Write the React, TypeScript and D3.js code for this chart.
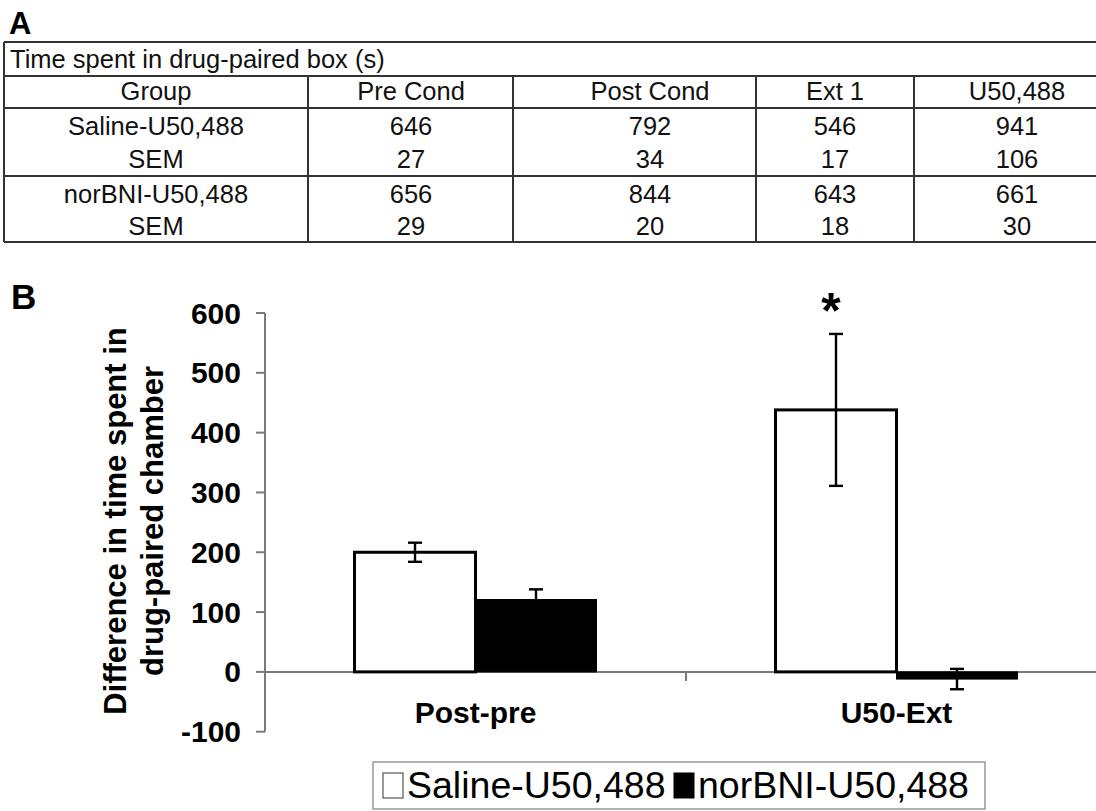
import React from 'react';
import * as d3 from 'd3';

// ---- Table (panel A) data ----
const tableTitle = 'Time spent in drug-paired box (s)';
const tableHeaders = ['Group', 'Pre Cond', 'Post Cond', 'Ext 1', 'U50,488'];
const rowLabels = ['Saline-U50,488', 'SEM', 'norBNI-U50,488', 'SEM'];
const salineMeans = [646, 792, 546, 941];
const salineSEM = [27, 34, 17, 106];
const norbniMeans = [656, 844, 643, 661];
const norbniSEM = [29, 20, 18, 30];

// ---- Bar chart (panel B) data ----
const categories = ['Post-pre', 'U50-Ext'];
const seriesNames = ['Saline-U50,488', 'norBNI-U50,488'];
const salineDiff = [200, 438];
const salineErr = [16, 127];
const norbniDiff = [121, -12];
const norbniErr = [17, 17];
const yTicks = [-100, 0, 100, 200, 300, 400, 500, 600];
const significant = [false, true];

const FONT = "'Liberation Sans', Arial, Helvetica, sans-serif";

export default function App() {
  const W = 1096, H = 811;

  // table layout
  const rowLines = [42, 76, 108, 176, 242];
  const colLines = [308, 513, 756, 914];
  const colCenters = [156, 411, 650, 835, 1017];
  const rowBase = [135, 168, 203, 235];
  const tableRows = [salineMeans, salineSEM, norbniMeans, norbniSEM];

  // chart scales
  const y = d3.scaleLinear().domain([-100, 600]).range([731.7, 313]);
  const x0 = d3.scaleBand().domain(categories).range([265, 1107]).paddingInner(0).paddingOuter(0);
  const x1 = d3.scaleBand().domain(seriesNames).range([0, x0.bandwidth()]).paddingInner(0).paddingOuter(0.74);

  const series = [
    { name: seriesNames[0], values: salineDiff, errs: salineErr, fill: '#fff', sw: 3 },
    { name: seriesNames[1], values: norbniDiff, errs: norbniErr, fill: '#000', sw: 1 },
  ];
  const axisColor = '#7a7a7a';

  return (
    <svg width={W} height={H} style={{ position: 'absolute', left: 0, top: 0, background: '#fff' }} fontFamily={FONT}>
      <rect x={0} y={0} width={W} height={H} fill="#fff" />
      {/* Panel A */}
      <text x={9} y={34} fontSize={31} fontWeight="bold">A</text>
      <g stroke="#333" strokeWidth={2}>
        <line x1={4} x2={4} y1={rowLines[0]} y2={rowLines[4]} />
        {rowLines.map((ry, i) => (
          <line key={i} x1={4} x2={1100} y1={ry} y2={ry} />
        ))}
        {colLines.map((cx, i) => (
          <line key={i} x1={cx} x2={cx} y1={rowLines[1]} y2={rowLines[4]} />
        ))}
      </g>
      <g fontSize={25.5} fill="#111">
        <text x={10} y={68}>{tableTitle}</text>
        {tableHeaders.map((h, i) => (
          <text key={h} x={colCenters[i]} y={100} textAnchor="middle">{h}</text>
        ))}
        {rowLabels.map((lab, r) => (
          <g key={r}>
            <text x={colCenters[0]} y={rowBase[r]} textAnchor="middle">{lab}</text>
            {tableRows[r].map((v, c) => (
              <text key={c} x={colCenters[c + 1]} y={rowBase[r]} textAnchor="middle">{v}</text>
            ))}
          </g>
        ))}
      </g>

      {/* Panel B */}
      <text x={11} y={309} fontSize={35} fontWeight="bold">B</text>
      {/* y axis title */}
      <g fontSize={31} fontWeight="bold" textAnchor="middle">
        <text transform="translate(126,521) rotate(-90)">Difference in time spent in</text>
        <text transform="translate(163,521) rotate(-90)">drug-paired chamber</text>
      </g>
      {/* y axis */}
      <line x1={265} x2={265} y1={y(600)} y2={y(-100)} stroke={axisColor} strokeWidth={2} />
      {yTicks.map((t) => (
        <g key={t}>
          <line x1={256} x2={265} y1={y(t)} y2={y(t)} stroke={axisColor} strokeWidth={2} />
          <text x={241} y={y(t) + 10.5} textAnchor="end" fontSize={30} fontWeight="bold">{t}</text>
        </g>
      ))}
      {/* x axis */}
      <line x1={265} x2={1096} y1={y(0)} y2={y(0)} stroke={axisColor} strokeWidth={2} />
      {categories.slice(1).map((c) => (
        <line key={c} x1={x0(c)} x2={x0(c)} y1={y(0)} y2={y(0) + 9} stroke={axisColor} strokeWidth={2} />
      ))}
      {/* bars */}
      {series.map((s) =>
        categories.map((c, i) => {
          const bx = (x0(c) as number) + (x1(s.name) as number);
          const v = s.values[i];
          return (
            <rect key={s.name + c} x={bx} width={x1.bandwidth()} y={Math.min(y(v), y(0))}
              height={Math.abs(y(v) - y(0))} fill={s.fill} stroke="#000" strokeWidth={s.sw} />
          );
        })
      )}
      {/* error bars */}
      {series.map((s) =>
        categories.map((c, i) => {
          const cx = (x0(c) as number) + (x1(s.name) as number) + x1.bandwidth() / 2;
          const v = s.values[i], e = s.errs[i];
          return (
            <g key={'e' + s.name + c} stroke="#000" strokeWidth={2.4}>
              <line x1={cx} x2={cx} y1={y(v + e)} y2={y(v - e)} />
              <line x1={cx - 7} x2={cx + 7} y1={y(v + e)} y2={y(v + e)} />
              <line x1={cx - 7} x2={cx + 7} y1={y(v - e)} y2={y(v - e)} />
            </g>
          );
        })
      )}
      {/* significance */}
      {categories.map((c, i) =>
        significant[i] ? (
          <text key={'s' + c} x={(x0(c) as number) + (x1(seriesNames[0]) as number) + x1.bandwidth() / 2 - 5}
            y={y(salineDiff[i] + salineErr[i]) - 6} textAnchor="middle" fontSize={50} fontWeight="bold">*</text>
        ) : null
      )}
      {/* category labels */}
      {categories.map((c) => (
        <text key={'l' + c} x={(x0(c) as number) + x0.bandwidth() / 2} y={723} textAnchor="middle"
          fontSize={30} fontWeight="bold">{c}</text>
      ))}
      {/* legend */}
      <rect x={373} y={762} width={612} height={47} fill="#fff" stroke="#999" strokeWidth={1.5} />
      <rect x={383} y={773} width={20} height={25} fill="#fff" stroke="#555" strokeWidth={1.2} />
      <text x={407} y={798} fontSize={37.5}>{seriesNames[0]}</text>
      <rect x={674} y={773} width={20} height={25} fill="#000" stroke="#000" strokeWidth={1} />
      <text x={698} y={798} fontSize={37.5}>{seriesNames[1]}</text>
    </svg>
  );
}
